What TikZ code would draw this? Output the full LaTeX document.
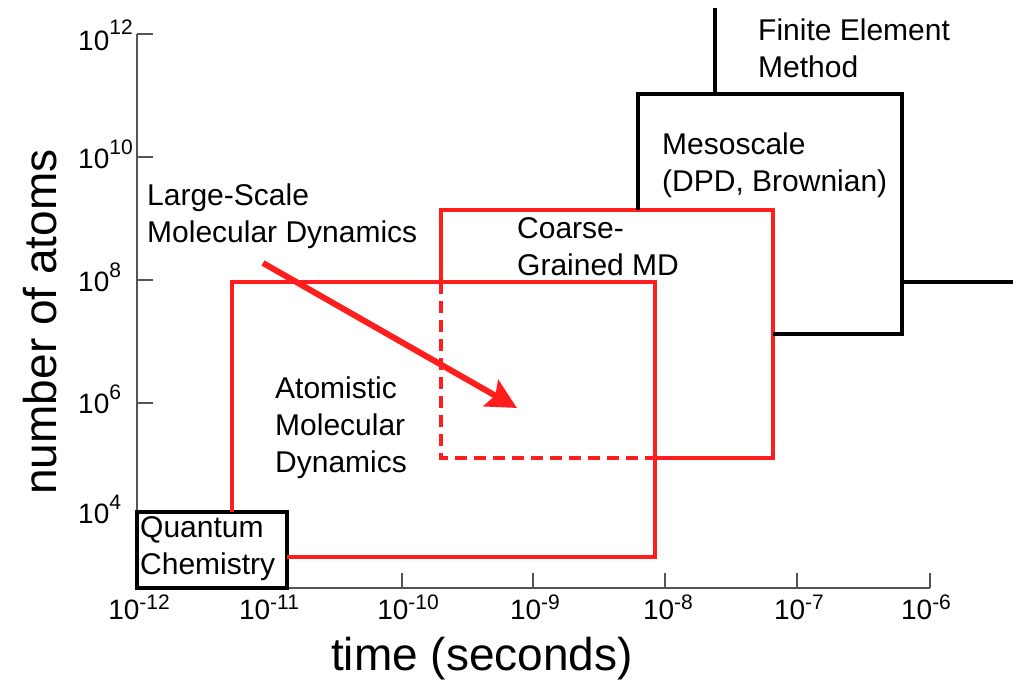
\documentclass[tikz,border=0pt]{standalone}
\usepackage{fontspec}
\setmainfont{Liberation Sans}
\usepackage{xcolor}
\usetikzlibrary{arrows.meta}
\definecolor{mdred}{HTML}{FF1E1E}
\definecolor{axisgray}{HTML}{555555}
\newcommand{\tenpow}[2][14pt]{10\raisebox{#1}{\fontsize{21}{21}\selectfont #2}}

\begin{document}
\begin{tikzpicture}[x=1pt, y=-1pt,
        axisline/.style={draw=axisgray, line width=1.8pt},
        blackline/.style={draw=black, line width=3.5pt},
        redline/.style={draw=mdred, line width=3.4pt},
        ticklabel/.style={inner sep=0pt, font=\fontsize{28}{28}\selectfont},
        boxlabel/.style={inner sep=0pt, anchor=north west, align=left, font=\fontsize{30}{37}\selectfont}]
        \useasboundingbox (0,0) rectangle (1024,696);
        % Axes
        \coordinate (O) at (137,588);
        \coordinate (Ytop) at (137,34);
        \coordinate (Xend) at (930,588);
        \draw[axisline] (Ytop) -- (O) -- (Xend);
        \foreach \y in {34,157,280,403}
            \draw[axisline] (137,\y) -- (153,\y);
        \foreach \x in {402,533,665,797,930}
            \draw[axisline] (\x,588) -- (\x,573);
        % Tick labels, number of atoms
        \node[ticklabel, anchor=base west] (N12) at (78,50) {\tenpow[16pt]{12}};
        \node[ticklabel, anchor=base west] (N10) at (78,168) {\tenpow{10}};
        \node[ticklabel, anchor=base west] (N8) at (78,291) {\tenpow{8}};
        \node[ticklabel, anchor=base west] (N6) at (78,413) {\tenpow{6}};
        \node[ticklabel, anchor=base west] (N4) at (78,523) {\tenpow{4}};
        % Tick labels, time
        \foreach \x/\e in {139/-12,269/-11,408/-10,535/-9,668/-8,799/-7,926/-6}
            \node[ticklabel, anchor=base] (T\e) at (\x,619) {\tenpow[10pt]{\e}};
        % Axis titles
        \node[inner sep=0pt, rotate=90, font=\fontsize{46}{46}\selectfont] (Ylabel) at (40,322) {number of atoms};
        \node[inner sep=0pt, anchor=base, font=\fontsize{46}{46}\selectfont] (Xlabel) at (482,670) {time (seconds)};
        % Quantum chemistry
        \draw[blackline] (137,512) rectangle (287,588);
        \node[boxlabel] (QC) at (140,516) {Quantum\\Chemistry};
        % Atomistic molecular dynamics
        \draw[redline] (232,512) |- (655,282) |- (287,557);
        \node[boxlabel] (AMD) at (275,377) {Atomistic\\Molecular\\Dynamics};
        % Coarse-grained MD
        \draw[redline] (441,282) -- (441,210) -| (773,458) -- (655,458);
        \draw[redline, dash pattern=on 12pt off 7pt] (441,282) |- (655,458);
        \node[boxlabel] (CG) at (517,217) {Coarse-\\Grained MD};
        % Mesoscale
        \draw[blackline] (638,210) |- (902,94) |- (773,334);
        \node[boxlabel] (Meso) at (662,133) {Mesoscale\\(DPD, Brownian)};
        % Finite element method
        \draw[blackline] (715,94) -- (715,8);
        \draw[blackline] (902,282) -- (1013,282);
        \node[boxlabel] (FEM) at (758,19) {Finite Element\\Method};
        % Large-scale MD
        \node[boxlabel] (LSMD) at (147,184) {Large-Scale\\Molecular Dynamics};
        \coordinate (LStail) at (263,263);
        \coordinate (LStip) at (517,408);
        \draw[mdred, line width=6pt, -{Stealth[length=30pt, width=30pt, inset=5pt]}] (LStail) -- (LStip);
    \end{tikzpicture}
\end{document}
